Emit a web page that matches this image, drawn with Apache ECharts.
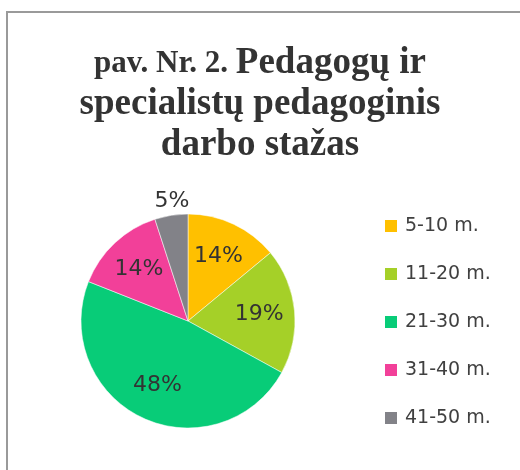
<!DOCTYPE html>
<html>
<head>
<meta charset="utf-8">
<script src="https://cdn.jsdelivr.net/npm/echarts@6/dist/echarts.min.js"></script>
<style>html,body{margin:0;padding:0;background:#fff}#c{width:520px;height:470px}</style>
</head>
<body>
<div id="c"></div>
<script>
var categories = ['5-10 m.', '11-20 m.', '21-30 m.', '31-40 m.', '41-50 m.'];
var values = [14, 19, 48, 14, 5];
var colors = ['#FFC000', '#A5D028', '#08CC78', '#F24099', '#828288'];
var titleSmall = 'pav. Nr. 2. ';
var titleLines = ['Pedagogų ir', 'specialistų pedagoginis', 'darbo stažas'];

var chart = echarts.init(document.getElementById('c'));
var data = categories.map(function (c, i) {
  return { name: c, value: values[i], itemStyle: { color: colors[i] } };
});
var labelData = categories.map(function (c, i) {
  var d = { name: c, value: values[i], itemStyle: { color: 'rgba(0,0,0,0)' } };
  if (i === 4) {
    d.label = { position: 'outside' };
    d.labelLine = { show: false, length: 14, length2: 0 };
  }
  return d;
});

chart.setOption({
  animation: false,
  graphic: [{
    type: 'rect',
    shape: { x: 7, y: 12, width: 540, height: 480 },
    style: { fill: 'none', stroke: '#9a9a9a', lineWidth: 2 },
    silent: true
  }],
  title: {
    left: 'center',
    top: 38,
    text: '{s|' + titleSmall + '}{b|' + titleLines[0] + '}\n{b|' + titleLines[1] + '}\n{b|' + titleLines[2] + '}',
    textStyle: {
      rich: {
        s: { fontFamily: 'Liberation Serif', fontWeight: 'bold', fontSize: 31, color: '#333', lineHeight: 41 },
        b: { fontFamily: 'Liberation Serif', fontWeight: 'bold', fontSize: 37, color: '#333', lineHeight: 41 }
      }
    }
  },
  legend: {
    orient: 'vertical',
    left: 383,
    top: 216,
    padding: 0,
    itemWidth: 14,
    itemHeight: 14,
    itemGap: 28,
    icon: 'rect',
    textStyle: { fontFamily: 'DejaVu Sans', fontSize: 19, color: '#404040', lineHeight: 20, padding: [0, 0, 0, 2] },
    data: categories
  },
  series: [{
    type: 'pie',
    center: [188, 321],
    radius: [0, 107],
    startAngle: 90,
    silent: true,
    label: { show: false },
    labelLine: { show: false },
    itemStyle: { borderColor: '#fff', borderWidth: 0.5 },
    data: data
  }, {
    type: 'pie',
    center: [188, 321],
    radius: [30, 107],
    startAngle: 90,
    silent: true,
    legendHoverLink: false,
    label: {
      show: true,
      position: 'inside',
      formatter: '{c}%',
      fontFamily: 'DejaVu Sans',
      fontSize: 22,
      color: '#333'
    },
    labelLayout: function (p) {
      if (p.dataIndex === 4) return { align: 'center', dx: 8 };
    },
    data: labelData
  }]
});
</script>
</body>
</html>
